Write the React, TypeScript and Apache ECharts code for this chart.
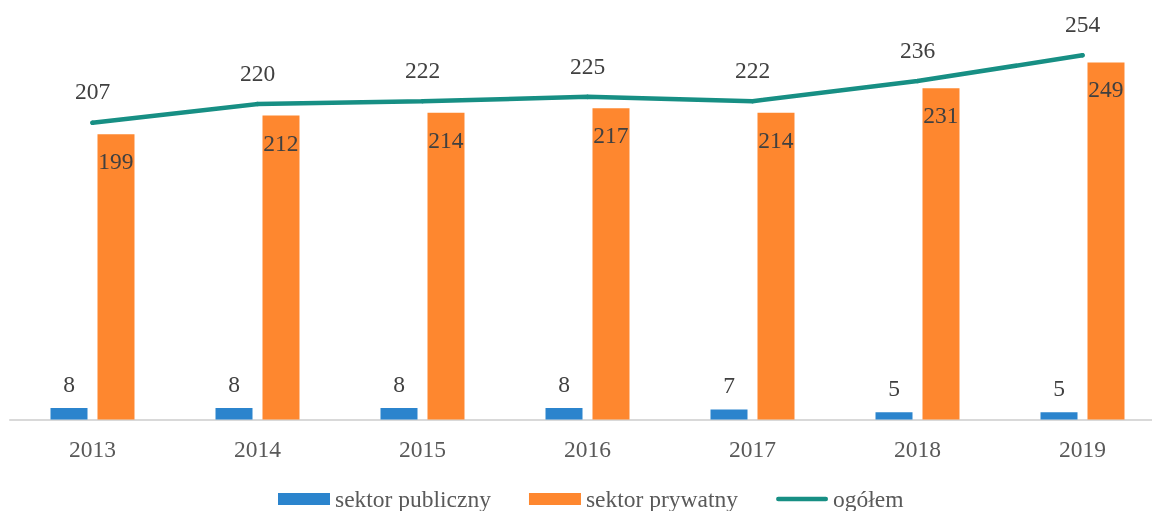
import React, { useEffect, useRef } from "react";
import * as echarts from "echarts";

const years = ["2013", "2014", "2015", "2016", "2017", "2018", "2019"];
const publicSector = [8, 8, 8, 8, 7, 5, 5];
const privateSector = [199, 212, 214, 217, 214, 231, 249];
const total = [207, 220, 222, 225, 222, 236, 254];

const FONT = "'Liberation Serif', 'Times New Roman', serif";
const LINE_ICON =
  "path://M2.25,0 H49.75 A2.25,2.25 0 0 1 49.75,4.5 H2.25 A2.25,2.25 0 0 1 2.25,0 Z";

export default function App() {
  const ref = useRef<HTMLDivElement>(null);
  useEffect(() => {
    if (!ref.current) return;
    const chart = echarts.init(ref.current, null, { renderer: "svg" });
    chart.setOption({
      animation: false,
      textStyle: { fontFamily: FONT },
      grid: { left: 10, top: 18, right: 10, height: 401.5, containLabel: false },
      legend: {
        left: 278,
        top: 487,
        padding: 0,
        itemWidth: 52,
        itemHeight: 12,
        itemGap: 38,
        symbolKeepAspect: true,
        textStyle: { fontFamily: FONT, fontSize: 23.5, color: "#595959" },
        data: [
          { name: "sektor publiczny", icon: "rect" },
          { name: "sektor prywatny", icon: "rect" },
          { name: "ogółem", icon: LINE_ICON },
        ],
      },
      xAxis: {
        type: "category",
        data: years,
        axisLine: { show: true, lineStyle: { color: "#D9D9D9", width: 2 } },
        axisTick: { show: false },
        axisLabel: { fontFamily: FONT, fontSize: 23.5, color: "#595959", margin: 17 },
      },
      yAxis: {
        type: "value",
        min: 0,
        max: 280,
        show: false,
        splitLine: { show: false },
      },
      series: [
        {
          name: "sektor publiczny",
          type: "bar",
          data: publicSector,
          barWidth: 37,
          barGap: "27%",
          itemStyle: { color: "#2B84CD" },
          label: {
            show: true,
            position: "top",
            distance: 12,
            fontFamily: FONT,
            fontSize: 23.5,
            color: "#404040",
          },
        },
        {
          name: "sektor prywatny",
          type: "bar",
          data: privateSector,
          barWidth: 37,
          itemStyle: { color: "#FE872F" },
          label: {
            show: true,
            position: "insideTop",
            distance: 15,
            fontFamily: FONT,
            fontSize: 23.5,
            color: "#404040",
          },
        },
        {
          name: "ogółem",
          type: "line",
          data: total,
          symbol: "circle",
          symbolSize: 4.5,
          itemStyle: { color: "#178F84" },
          lineStyle: { color: "#178F84", width: 4.5, cap: "round" },
          label: {
            show: true,
            position: "top",
            distance: 17,
            fontFamily: FONT,
            fontSize: 23.5,
            color: "#404040",
          },
        },
      ],
    });
    return () => chart.dispose();
  }, []);
  return (
    <div
      style={{ position: "fixed", left: 0, top: 0, width: 1152, height: 511, overflow: "hidden" }}
    >
      <div ref={ref} style={{ width: 1175, height: 511 }} />
    </div>
  );
}
